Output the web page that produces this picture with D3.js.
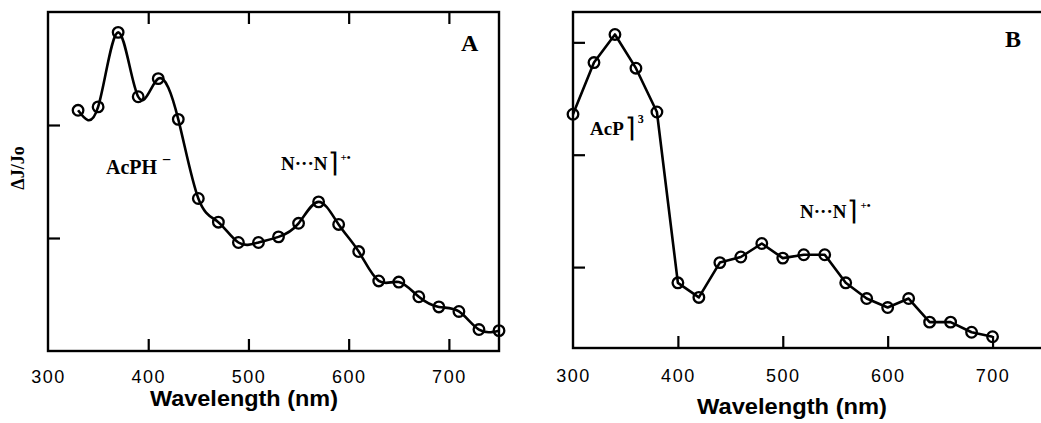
<!DOCTYPE html>
<html>
<head>
<meta charset="utf-8">
<script src="https://cdn.jsdelivr.net/npm/d3@7"></script>
<style>
  body { margin: 0; background: #fff; }
  svg { display: block; }
  .tick line { stroke: #000; stroke-width: 2.2; }
  .domain { display: none; }
</style>
</head>
<body>
<svg id="chart" width="1041" height="423"></svg>
<script>
// Values (arbitrary dJ/Jo units, 0 = bottom of panel A)
const wavelengthA = [330, 350, 370, 390, 410, 430, 450, 470, 490, 510, 530,
  550, 570, 590, 610, 630, 650, 670, 690, 710, 730, 750];
const signalA = [2.13, 2.16, 2.82, 2.25, 2.41, 2.05, 1.35, 1.14, 0.96, 0.96, 1.01,
  1.13, 1.32, 1.12, 0.88, 0.62, 0.61, 0.48, 0.39, 0.35, 0.19, 0.18];

const wavelengthB = [300, 320, 340, 360, 380, 400, 420, 440, 460, 480, 500,
  520, 540, 560, 580, 600, 620, 640, 660, 680, 700];
const signalB = [2.36, 2.82, 3.07, 2.77, 2.38, 0.86, 0.73, 1.04, 1.09, 1.21, 1.08,
  1.11, 1.11, 0.86, 0.72, 0.64, 0.72, 0.51, 0.51, 0.42, 0.38];

const xTickValues = [300, 400, 500, 600, 700];
const innerXTicks = [400, 500, 600, 700];
const yTicksA = [1, 2];
const yTicksB = [1, 2, 3];

const svg = d3.select('#chart');

// Panel geometry
const panelA = { left: 48, right: 499, top: 12, bottom: 351 };
const panelB = { left: 573, right: 1045, top: 12, bottom: 348 };

const xA = d3.scaleLinear().domain([300, 750]).range([panelA.left, panelA.right]);
const yA = d3.scaleLinear().domain([0, 3]).range([panelA.bottom, panelA.top]);
const xB = d3.scaleLinear().domain([300, 750]).range([panelB.left, panelB.right]);
const yB = d3.scaleLinear().domain([0.28, 3.27]).range([panelB.bottom, panelB.top]);

const drawFrame = p => {
  svg.append('rect')
    .attr('x', p.left).attr('y', p.top)
    .attr('width', p.right - p.left).attr('height', p.bottom - p.top)
    .attr('fill', 'none').attr('stroke', '#000').attr('stroke-width', 2.4);
};

const drawBottomAxis = (x, p, padding) => {
  const g = svg.append('g')
    .attr('transform', `translate(0,${p.bottom})`)
    .call(d3.axisBottom(x).tickValues(xTickValues).tickSize(-12)
      .tickSizeOuter(0).tickPadding(padding).tickFormat(d3.format('d')));
  g.selectAll('.tick').filter(d => d === 300).select('line').remove();
  g.selectAll('.tick text')
    .attr('font-family', '"Liberation Sans", Arial, sans-serif')
    .attr('font-size', 18)
    .attr('letter-spacing', 1.5)
    .attr('fill', '#000');
};

const drawSeries = (x, y, xs, ys, curve) => {
  const pts = xs.map((d, i) => [d, ys[i]]);
  const line = d3.line()
    .x(d => x(d[0]))
    .y(d => y(d[1]))
    .curve(curve);
  svg.append('path')
    .attr('d', line(pts))
    .attr('fill', 'none')
    .attr('stroke', '#000')
    .attr('stroke-width', 2.6)
    .attr('stroke-linejoin', 'round');
  svg.append('g').selectAll('circle')
    .data(pts)
    .join('circle')
    .attr('cx', d => x(d[0]))
    .attr('cy', d => y(d[1]))
    .attr('r', 5.3)
    .attr('fill', 'none')
    .attr('stroke', '#000')
    .attr('stroke-width', 2.3);
};

const serif = '"Liberation Serif", "Times New Roman", serif';
const sans = '"Liberation Sans", Arial, sans-serif';

const label = (xPos, yPos, size) => svg.append('text')
  .attr('x', xPos).attr('y', yPos)
  .attr('font-family', serif)
  .attr('font-weight', 'bold')
  .attr('font-size', size)
  .attr('fill', '#000');

// Panel A
drawFrame(panelA);
drawBottomAxis(xA, panelA, 19);
svg.append('g')
  .attr('transform', `translate(0,${panelA.top})`)
  .call(d3.axisTop(xA).tickValues(innerXTicks).tickSize(-12).tickSizeOuter(0).tickFormat(''));
svg.append('g')
  .attr('transform', `translate(${panelA.left},0)`)
  .call(d3.axisLeft(yA).tickValues(yTicksA).tickSize(-12).tickSizeOuter(0).tickFormat(''));
drawSeries(xA, yA, wavelengthA, signalA, d3.curveNatural);

svg.append('text')
  .attr('transform', 'translate(24,168) rotate(-90)')
  .attr('text-anchor', 'middle')
  .attr('font-family', serif)
  .attr('font-weight', 'bold')
  .attr('font-size', 18)
  .text('ΔJ/Jo');

svg.append('text')
  .attr('x', 244).attr('y', 406)
  .attr('text-anchor', 'middle')
  .attr('font-family', sans)
  .attr('font-weight', 'bold')
  .attr('font-size', 22)
  .attr('textLength', 188)
  .attr('lengthAdjust', 'spacingAndGlyphs')
  .text('Wavelength (nm)');

label(461, 51, 24).text('A');

const acph = label(106, 174, 20).text('AcPH');
acph.append('tspan').attr('dx', 5).attr('dy', -9).attr('font-size', 16).text('\u2212');

const nnA = label(281, 170, 19).text('N\u00b7\u00b7\u00b7N');
nnA.append('tspan').attr('dx', 1).attr('dy', 2).attr('font-weight', 'normal').attr('font-size', 27).text('\u2309');
nnA.append('tspan').attr('dx', 1).attr('dy', -11).attr('font-size', 11).text('+\u2022');

// Panel B
drawFrame(panelB);
drawBottomAxis(xB, panelB, 21);
svg.append('g')
  .attr('transform', `translate(${panelB.left},0)`)
  .call(d3.axisLeft(yB).tickValues(yTicksB).tickSize(-12).tickSizeOuter(0).tickFormat(''));
drawSeries(xB, yB, wavelengthB, signalB, d3.curveLinear);

svg.append('text')
  .attr('x', 792).attr('y', 414)
  .attr('text-anchor', 'middle')
  .attr('font-family', sans)
  .attr('font-weight', 'bold')
  .attr('font-size', 22)
  .attr('textLength', 190)
  .attr('lengthAdjust', 'spacingAndGlyphs')
  .text('Wavelength (nm)');

label(1005, 47, 24).text('B');

const acp = label(590, 135, 19).text('AcP');
acp.append('tspan').attr('dx', 1).attr('dy', 2).attr('font-weight', 'normal').attr('font-size', 27).text('\u2309');
acp.append('tspan').attr('dx', 2).attr('dy', -14).attr('font-size', 12).text('3');

const nnB = label(800, 218, 19).text('N\u00b7\u00b7\u00b7N');
nnB.append('tspan').attr('dx', 1).attr('dy', 2).attr('font-weight', 'normal').attr('font-size', 27).text('\u2309');
nnB.append('tspan').attr('dx', 2).attr('dy', -11).attr('font-size', 11).text('+\u2022');
</script>
</body>
</html>
